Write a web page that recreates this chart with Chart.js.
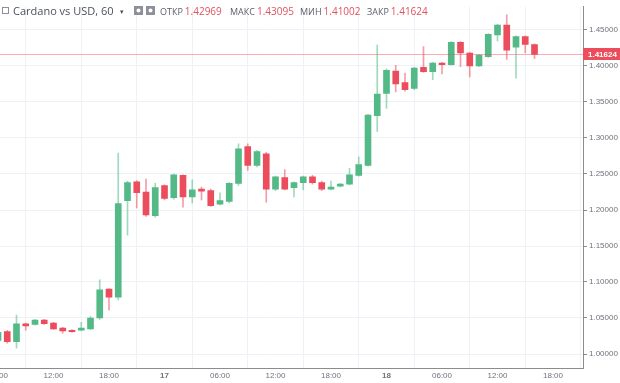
<!DOCTYPE html>
<html>
<head>
<meta charset="utf-8">
<script src="https://cdn.jsdelivr.net/npm/chart.js@4.4.1/dist/chart.umd.min.js"></script>
<style>
html, body { margin:0; padding:0; background:#fff; overflow:hidden; }
#wrap { position:absolute; left:-40px; top:0; width:660px; height:383px; }
</style>
</head>
<body>
<div id="wrap"><canvas id="chart" width="660" height="383"></canvas></div>
<script>
'use strict'
// hourly candles, hour counted from 16th 00:00
let hours  = [6,7,8,9,10,11,12,13,14,15,16,17,18,19,20,21,22,23,24,25,26,27,28,29,30,31,32,33,34,35,
              36,37,38,39,40,41,42,43,44,45,46,47,48,49,50,51,52,53,54,55,56,57,58,59,60,61,62,63,64];
let opens  = [1.019,1.031,1.017,1.042,1.041,1.047,1.043,1.036,1.033,1.033,1.035,1.050,1.090,1.079,1.213,1.239,1.225,1.192,1.234,1.217,
              1.248,1.218,1.229,1.227,1.208,1.212,1.237,1.288,1.262,1.278,1.229,1.245,1.231,1.238,1.246,1.238,1.229,1.233,1.236,1.248,
              1.262,1.331,1.362,1.393,1.377,1.369,1.398,1.392,1.404,1.402,1.433,1.418,1.400,1.413,1.443,1.457,1.426,1.441,1.42969];
let highs  = [1.032,1.033,1.054,1.043,1.048,1.048,1.044,1.037,1.034,1.044,1.052,1.103,1.091,1.279,1.240,1.241,1.243,1.237,1.235,1.250,
              1.249,1.242,1.232,1.229,1.224,1.238,1.292,1.292,1.283,1.280,1.247,1.256,1.239,1.247,1.248,1.240,1.240,1.237,1.258,1.274,
              1.333,1.429,1.396,1.401,1.390,1.398,1.427,1.405,1.405,1.434,1.434,1.419,1.416,1.445,1.458,1.471,1.442,1.442,1.43095];
let lows   = [1.017,1.015,1.008,1.033,1.040,1.041,1.034,1.029,1.030,1.032,1.034,1.048,1.061,1.075,1.165,1.203,1.191,1.190,1.214,1.215,
              1.204,1.210,1.214,1.205,1.207,1.210,1.234,1.255,1.260,1.211,1.227,1.228,1.218,1.228,1.236,1.227,1.228,1.232,1.235,1.247,
              1.261,1.309,1.341,1.364,1.365,1.367,1.391,1.381,1.389,1.401,1.399,1.385,1.399,1.412,1.435,1.409,1.383,1.418,1.41002];
let closes = [1.030,1.017,1.042,1.039,1.047,1.042,1.035,1.032,1.031,1.036,1.050,1.089,1.079,1.209,1.238,1.224,1.193,1.231,1.216,1.249,
              1.218,1.228,1.226,1.206,1.213,1.237,1.285,1.262,1.281,1.229,1.246,1.229,1.238,1.246,1.238,1.229,1.232,1.236,1.249,1.263,
              1.332,1.361,1.394,1.375,1.367,1.397,1.392,1.404,1.402,1.433,1.418,1.400,1.415,1.444,1.457,1.422,1.441,1.430,1.41624];

let xTickHours  = [6,12,18,24,30,36,42,48,54,60,66];
let xTickLabels = ['06:00','12:00','18:00','17','06:00','12:00','18:00','18','06:00','12:00','18:00'];
let yTicks      = [1.00,1.05,1.10,1.15,1.20,1.25,1.30,1.35,1.40,1.45];

let upColor = '#53b987';
let downColor = '#eb4d5c';
let upWick = 'rgba(83,185,135,0.55)';
let downWick = 'rgba(235,77,92,0.55)';
let axisFont = '"Liberation Sans", Arial, sans-serif';
let headFont = '"Open Sans", "Noto Sans", sans-serif';

function isUp(i){
    return closes[i] >= opens[i];
}
// page pixel -> value, used only to line the axis ranges up with the screenshot
function hourAt(px){ return 12 + (px - 53.5) / 9.25; }
function priceAt(py){ return 1 + (354 - py) / 720; }

let bodies = hours.map((h, i) => ({x: h, y: [opens[i], closes[i]]}));
let wicks  = hours.map((h, i) => ({x: h, y: [lows[i], highs[i]]}));

let overlay = {
    id: 'overlay',
    afterDatasetsDraw(chart){
        let ctx = chart.ctx;
        let a = chart.chartArea;
        let last = closes.length - 1;
        let y = Math.round(chart.scales.y.getPixelForValue(closes[last])) + 0.5;
        ctx.save();
        ctx.strokeStyle = 'rgba(235,77,92,0.45)';
        ctx.lineWidth = 1;
        ctx.beginPath();
        ctx.moveTo(a.left, y);
        ctx.lineTo(a.right, y);
        ctx.stroke();
        ctx.restore();
    },
    afterDraw(chart){
        let ctx = chart.ctx;
        let a = chart.chartArea;
        let last = closes.length - 1;
        let y = Math.round(chart.scales.y.getPixelForValue(closes[last]));
        ctx.save();
        // last price badge
        ctx.fillStyle = downColor;
        ctx.fillRect(a.right, y - 6, 37, 12);
        ctx.fillStyle = '#fff';
        ctx.font = 'bold 8px ' + axisFont;
        ctx.textBaseline = 'middle';
        ctx.fillText(closes[last].toFixed(5), a.right + 5, y + 0.5);

        // header line
        let off = 40;
        ctx.textBaseline = 'alphabetic';
        ctx.strokeStyle = '#8a8f99';
        ctx.lineWidth = 1;
        ctx.strokeRect(off + 2.5, 7.5, 6, 6);
        ctx.fillStyle = '#4b505b';
        ctx.font = '11px ' + headFont;
        ctx.fillText('Cardano vs USD, 60', off + 13, 15);
        ctx.font = '7px ' + headFont;
        ctx.fillText('\u25BE', off + 120, 14);
        ctx.fillStyle = '#8d9099';
        ctx.fillRect(off + 134, 6, 9, 9);
        ctx.fillRect(off + 146, 6, 9, 9);
        ctx.fillStyle = '#fff';
        ctx.beginPath(); ctx.arc(off + 138.5, 10.5, 2, 0, Math.PI * 2); ctx.fill();
        ctx.beginPath(); ctx.arc(off + 150.5, 10.5, 2, 0, Math.PI * 2); ctx.fill();
        let items = [['ОТКР', 160, opens[last]], ['МАКС', 230, highs[last]], ['МИН', 300, lows[last]], ['ЗАКР', 367, closes[last]]];
        items.forEach(it => {
            ctx.font = '9px ' + headFont;
            ctx.fillStyle = '#5d606b';
            ctx.fillText(it[0], off + it[1], 15);
            let w = ctx.measureText(it[0]).width;
            ctx.font = '10px ' + headFont;
            ctx.fillStyle = '#e0525f';
            ctx.fillText(it[2].toFixed(5), off + it[1] + w + 2, 15);
        });
        ctx.restore();
    }
};

let chart = new Chart(document.getElementById('chart'), {
    type: 'bar',
    data: {
        datasets: [{
            label: 'body',
            data: bodies,
            backgroundColor: c => isUp(c.dataIndex) ? upColor : downColor,
            barThickness: 6,
            minBarLength: 1,
            grouped: false,
            order: 0
        }, {
            label: 'wick',
            data: wicks,
            backgroundColor: c => isUp(c.dataIndex) ? upWick : downWick,
            barThickness: 1,
            grouped: false,
            order: 1
        }]
    },
    options: {
        responsive: false,
        animation: false,
        devicePixelRatio: 1,
        layout: { padding: 0 },
        plugins: { legend: { display: false }, tooltip: { enabled: false } },
        scales: {
            x: {
                type: 'linear',
                min: hourAt(-40),
                max: hourAt(583),
                offset: false,
                afterBuildTicks: s => { s.ticks = xTickHours.map(v => ({value: v})); },
                afterFit: s => { s.height = 15; },
                ticks: {
                    autoSkip: false,
                    maxRotation: 0,
                    padding: 3,
                    color: '#6f737c',
                    font: c => ({family: axisFont, size: 8, weight: (c.tick && c.tick.value % 24 === 0) ? 'bold' : 'normal'}),
                    callback: (v, i) => xTickLabels[i]
                },
                grid: { color: '#eef1f5', drawTicks: false },
                border: { display: true, color: '#8c8c8c' }
            },
            y: {
                position: 'right',
                min: priceAt(368),
                max: priceAt(0),
                afterBuildTicks: s => { s.ticks = yTicks.map(v => ({value: v})); },
                afterFit: s => { s.width = 37; },
                ticks: {
                    padding: 2,
                    color: '#6f737c',
                    font: { family: axisFont, size: 8 },
                    callback: v => v.toFixed(5)
                },
                grid: { color: '#eef1f5', tickColor: '#8c8c8c', tickLength: 4 },
                border: { display: true, color: '#8c8c8c' }
            }
        }
    },
    plugins: [overlay]
});

// line the ranges up with the real plot box
let area = chart.chartArea;
chart.options.scales.x.min = hourAt(area.left - 40);
chart.options.scales.x.max = hourAt(area.right - 40);
chart.options.scales.y.max = priceAt(area.top);
chart.options.scales.y.min = priceAt(area.bottom);
chart.update();
</script>
</body>
</html>
